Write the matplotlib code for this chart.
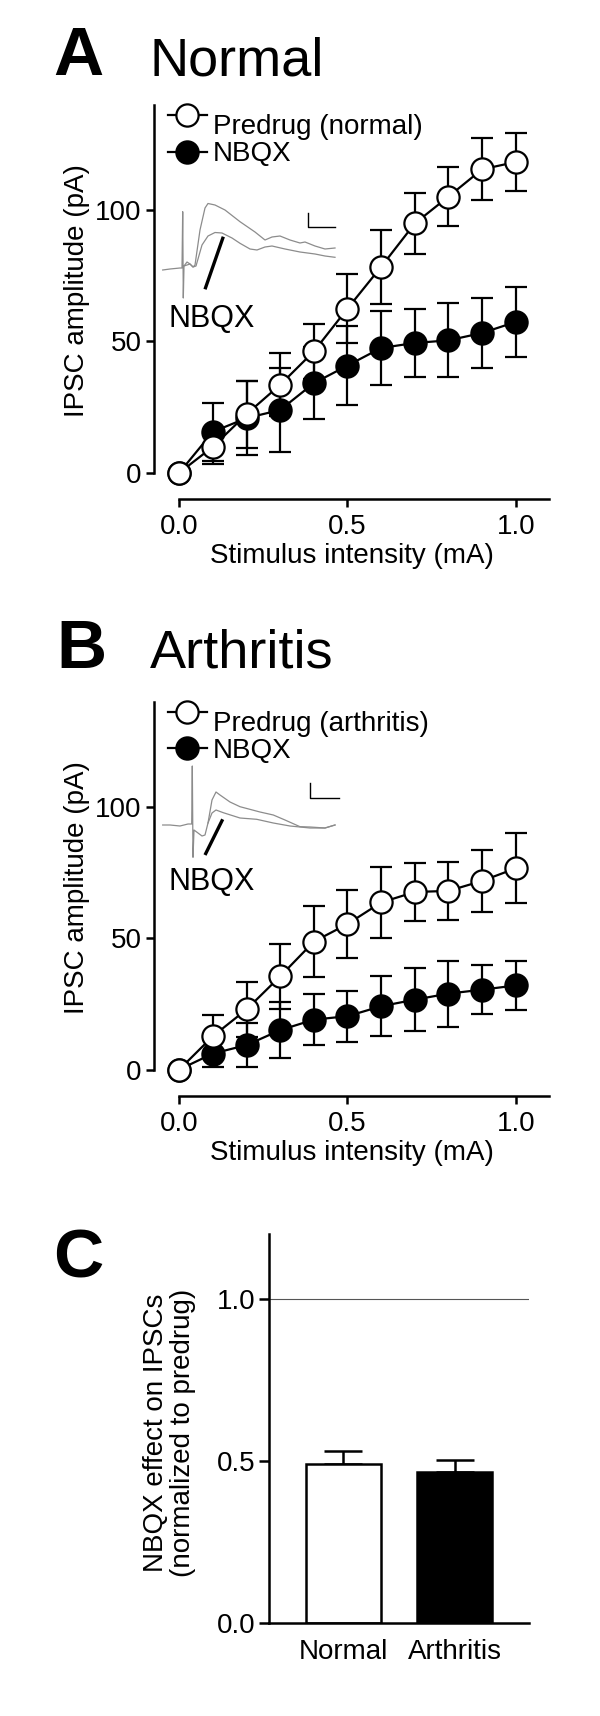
import matplotlib
matplotlib.use('Agg')
import matplotlib.pyplot as plt

plt.rcParams['font.family'] = ['Liberation Sans', 'DejaVu Sans']

# ---------------- data ----------------
stim = [0.0, 0.1, 0.2, 0.3, 0.4, 0.5, 0.6, 0.7, 0.8, 0.9, 1.0]

normal_pre = [0, 9.9, 22.3, 33.5, 46.2, 62.5, 78.4, 94.9, 105.1, 115.5, 118.3]
normal_pre_sem = [0, 6.5, 12.7, 12.0, 10.4, 13.2, 14.0, 11.7, 11.3, 11.8, 11.2]
normal_nbqx = [0, 15.6, 20.8, 23.9, 34.1, 40.8, 47.5, 49.4, 50.4, 53.2, 57.4]
normal_nbqx_sem = [0, 11.0, 14.0, 15.9, 13.7, 15.0, 14.2, 13.1, 14.1, 13.4, 13.4]

arth_pre = [0, 12.7, 22.9, 35.5, 48.7, 55.4, 63.6, 67.6, 68.0, 71.8, 76.6]
arth_pre_sem = [0, 8.0, 10.4, 12.3, 13.6, 13.0, 13.6, 11.1, 11.0, 11.7, 13.3]
arth_nbqx = [0, 6.1, 9.3, 15.0, 19.0, 20.3, 24.1, 26.6, 28.9, 30.4, 32.0]
arth_nbqx_sem = [0, 5.0, 8.5, 10.7, 9.8, 9.7, 11.4, 12.1, 12.6, 9.3, 9.2]

groups = ['Normal', 'Arthritis']
effect_mean = [0.490, 0.465]
effect_sem = [0.041, 0.038]

# example traces (inset units)
a_pre_t = [2.7, 10, 20, 22, 22.7, 23.3, 24, 27, 30, 33, 35, 40, 45, 48, 55, 65, 80, 95, 105, 112, 120, 130, 140, 145, 155, 165, 175]
a_pre_i = [65, 66, 67, 67, 123.3, 37, 69, 73, 71, 68, 70, 105, 127, 131.5, 130, 125, 113.3, 103, 95, 98, 99, 95, 92, 93, 89, 86, 87]
a_nb_t = [24, 30, 33, 36, 42, 48, 55, 62, 72, 80, 90, 97, 105, 112, 125, 140, 155, 165, 175]
a_nb_i = [69, 71, 68, 69, 90, 99, 102.5, 102, 97, 91.7, 86, 85, 88, 89, 86, 83, 81, 79, 77.7]

b_pre_t = [2.7, 10, 20, 28, 31.7, 32.3, 33, 34, 38, 42, 45, 48, 52, 56, 60, 70, 80, 100, 113.3, 125, 140, 150, 165, 175]
b_pre_i = [70, 70, 69, 71, 71, 129, 37.7, 65, 62, 59, 60, 72, 95, 103, 100, 93, 88.3, 83, 80, 75, 68.3, 68, 67, 70]
b_nb_t = [48, 52, 56, 63.3, 80, 96.7, 113.3, 130, 150, 165, 175]
b_nb_i = [72, 82, 85, 82.3, 77, 75.7, 72, 69, 67, 67, 70]

W, H = 600, 1716
fig = plt.figure(figsize=(W / 100, H / 100), dpi=100)


def px_axes(left, top, right, bottom):
    return fig.add_axes([left / W, 1 - bottom / H, (right - left) / W, (bottom - top) / H])


LW = 1.8
FS = 20


def style_line_axes(ax):
    for s in ['top', 'right']:
        ax.spines[s].set_visible(False)
    ax.spines['left'].set_linewidth(LW)
    ax.spines['bottom'].set_linewidth(LW)
    ax.spines['left'].set_bounds(0, 140)
    ax.spines['bottom'].set_bounds(0, 1.1)
    ax.set_xlim(-0.0752, 1.099)
    ax.set_ylim(-10, 140)
    ax.set_yticks([0, 50, 100])
    ax.set_xticks([0, 0.5, 1.0])
    ax.set_xticklabels(['0.0', '0.5', '1.0'])
    ax.tick_params(axis='both', direction='out', length=6, width=LW, labelsize=FS)
    ax.tick_params(axis='y', pad=3)
    ax.tick_params(axis='x', pad=5)
    ax.set_xlabel('Stimulus intensity (mA)', fontsize=FS, labelpad=2)
    ax.patch.set_alpha(0)


def plot_series(ax, pre, pre_sem, nb, nb_sem):
    kw = dict(fmt='o-', color='black', mec='black', ms=16, mew=1.6, lw=1.6,
              elinewidth=1.6, capsize=8, capthick=1.6)
    ax.errorbar(stim, nb, yerr=nb_sem, mfc='black', zorder=2, **kw)
    ax.errorbar(stim, pre, yerr=pre_sem, mfc='white', zorder=3, **kw)


def legend(ax, label_pre):
    rows = [(0.9746, 'white', label_pre, 0.9256), (0.8815, 'black', 'NBQX', 0.8579)]
    for yc, fc, lab, yb in rows:
        ax.plot([0.0354, 0.134], [yc, yc], '-', color='black', lw=1.6,
                transform=ax.transAxes, clip_on=False)
        ax.plot([0.0828], [yc], 'o', color='black', mfc=fc, mec='black', ms=16, mew=1.6,
                transform=ax.transAxes, clip_on=False)
        ax.text(0.1486, yb, lab, fontsize=FS, transform=ax.transAxes, va='baseline', ha='left')


def inset(box, pre_t, pre_i, nb_t, nb_i, pointer, scale, text_pos):
    left, top, right, bottom = box
    ia = px_axes(left, top, right, bottom)
    ia.set_xlim(0, right - left)
    ia.set_ylim(0, bottom - top)
    ia.axis('off')
    ia.plot(pre_t, pre_i, color='#8c8c8c', lw=0.9)
    ia.plot(nb_t, nb_i, color='#8c8c8c', lw=0.9)
    ia.plot(pointer[0], pointer[1], color='black', lw=2.4, solid_capstyle='butt')
    ia.plot(scale[0], scale[1], color='black', lw=1.0)
    ia.text(text_pos[0], text_pos[1], 'NBQX', fontsize=22, va='baseline', ha='left')


# ---------------- Panel A ----------------
axA = px_axes(154, 105, 549, 499)
style_line_axes(axA)
plot_series(axA, normal_pre, normal_pre_sem, normal_nbqx, normal_nbqx_sem)
legend(axA, 'Predrug (normal)')
inset((160, 195, 345, 335), a_pre_t, a_pre_i, a_nb_t, a_nb_i,
      ([63.3, 45], [98.3, 45.7]),
      ([175, 147.7, 147.7], [108.3, 108.3, 121.7]), (8.3, 8.3))
fig.text(77 / W, 1 - 291 / H, 'IPSC amplitude (pA)', rotation=90, fontsize=FS,
         ha='center', va='center')
fig.text(53 / W, 1 - 75 / H, 'A', fontsize=50, fontweight='bold', va='baseline', ha='left')
fig.text(150 / W, 1 - 75 / H, 'Normal', fontsize=39, va='baseline', ha='left')

# ---------------- Panel B ----------------
axB = px_axes(154, 701.8, 549, 1095.8)
style_line_axes(axB)
plot_series(axB, arth_pre, arth_pre_sem, arth_nbqx, arth_nbqx_sem)
legend(axB, 'Predrug (arthritis)')
inset((160, 755, 345, 895), b_pre_t, b_pre_i, b_nb_t, b_nb_i,
      ([62.7, 45], [75.7, 40]),
      ([179.3, 150, 150], [96.7, 96.7, 111.7]), (8.3, 5))
fig.text(77 / W, 1 - 888 / H, 'IPSC amplitude (pA)', rotation=90, fontsize=FS,
         ha='center', va='center')
fig.text(56 / W, 1 - 668 / H, 'B', fontsize=50, fontweight='bold', va='baseline', ha='left')
fig.text(150 / W, 1 - 668 / H, 'Arthritis', fontsize=39, va='baseline', ha='left')

# ---------------- Panel C ----------------
axC = px_axes(269, 1234, 529, 1622.7)
xpos = list(range(len(groups)))
axC.axhline(1.0, color='#555555', lw=0.8, zorder=1)
axC.bar(xpos, effect_mean, width=0.67, color=['white', 'black'], edgecolor='black',
        linewidth=LW, zorder=2)
axC.errorbar(xpos, effect_mean, yerr=[[0] * len(groups), effect_sem], fmt='none',
             ecolor='black', elinewidth=LW, capsize=13.5, capthick=LW, zorder=1.5)
axC.set_xlim(-0.67, 1.67)
axC.set_ylim(0, 1.2)
for s in ['top', 'right']:
    axC.spines[s].set_visible(False)
axC.spines['left'].set_linewidth(LW)
axC.spines['bottom'].set_linewidth(LW)
axC.set_yticks([0, 0.5, 1.0])
axC.set_yticklabels(['0.0', '0.5', '1.0'])
axC.set_xticks(xpos)
axC.set_xticklabels(groups)
axC.tick_params(axis='y', direction='out', length=7, width=LW, labelsize=FS, pad=3)
axC.tick_params(axis='x', length=0, labelsize=FS, pad=12)
fig.text(170 / W, 1 - 1433 / H, 'NBQX effect on IPSCs\n(normalized to predrug)', rotation=90,
         fontsize=FS, ha='center', va='center', multialignment='center', linespacing=1.05)
fig.text(53 / W, 1 - 1278 / H, 'C', fontsize=50, fontweight='bold', va='baseline', ha='left')

fig.savefig('out.png', dpi=100, facecolor='white')
